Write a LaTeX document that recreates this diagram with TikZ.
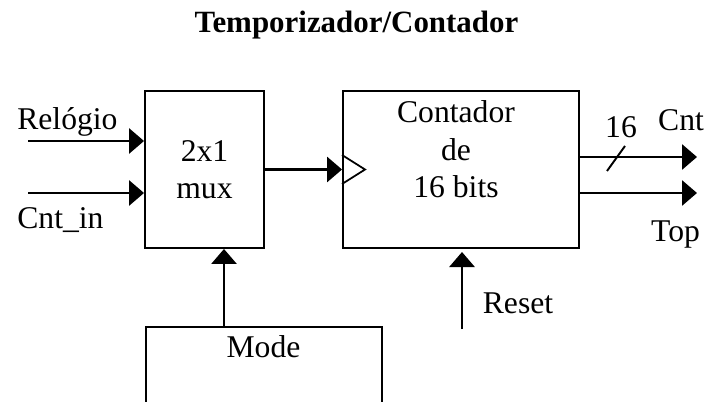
\documentclass[tikz,border=0pt]{standalone}
\usepackage{fontspec}
\setmainfont{Liberation Serif}
\usetikzlibrary{arrows.meta}

\begin{document}
\begin{tikzpicture}[
  block/.style={draw, line width=1.1pt, inner sep=0pt, minimum height=3.14cm},
  sig/.style={line width=1.7pt, -{Triangle[length=0.3cm, width=0.5cm]}},
  txt/.style={font=\fontsize{18}{21}\selectfont, inner sep=0pt, anchor=base},
]
  \clip (0,0) rectangle (14.14,8.02);
  \fill[white] (0,0) rectangle (14.14,8.02);

  \node[font=\fontsize{17.6}{20}\selectfont\bfseries, inner sep=0pt, anchor=base] (title) at (7.13, 7.36) {Temporizador/Contador};

  % blocks
  \node[block, minimum width=2.38cm] (mux) at (4.09, 4.63) {};
  \node[block, minimum width=4.72cm] (cnt) at (9.22, 4.63) {};
  \node[block, minimum width=4.72cm, minimum height=1.98cm] (mode) at (5.28, 0.49) {};

  \node[txt] (muxa) at (4.09, 4.78) {2x1};
  \node[txt] (muxb) at (4.09, 4.04) {mux};
  \node[txt] (cnta) at (9.12, 5.56) {Contador};
  \node[txt] (cntb) at (9.12, 4.80) {de};
  \node[txt] (cntc) at (9.12, 4.06) {16 bits};
  \node[txt] (modelbl) at (5.27, 0.88) {Mode};

  % inputs of the mux
  \coordinate (clkin) at (0.56, 5.20);
  \coordinate (cntin) at (0.56, 4.16);
  \draw[sig] (clkin) -- (clkin -| mux.west);
  \draw[sig] (cntin) -- (cntin -| mux.west);
  \node[txt, anchor=base west] (clklbl) at (0.34, 5.42) {Relógio};
  \node[txt, anchor=base west] (cntinlbl) at (0.34, 3.44) {Cnt\_in};

  % mode select
  \coordinate (modex) at (4.48, 0);
  \draw[sig] (mode.north -| modex) -- (mux.south -| modex);

  % mux to counter clock
  \draw[sig] (mux.east) -- (cnt.west);
  \draw[line width=1pt] ([yshift=0.29cm]cnt.west) -- ++(0.46, -0.29) -- ++(-0.46, -0.29);

  % outputs
  \coordinate (cntout) at (13.94, 4.88);
  \coordinate (topout) at (13.94, 4.16);
  \draw[sig] (cntout -| cnt.east) -- (cntout);
  \draw[sig] (topout -| cnt.east) -- (topout);
  \draw[line width=1.1pt] (12.14, 4.60) -- (12.50, 5.10);
  \node[txt] (buslbl) at (12.42, 5.26) {16};
  \node[txt] (cntlbl) at (13.62, 5.40) {Cnt};
  \node[txt] (toplbl) at (13.51, 3.18) {Top};

  % reset
  \coordinate (rst) at (9.24, 1.44);
  \coordinate (rsttip) at (9.24, 2.98);
  \draw[sig] (rst) -- (rsttip);
  \node[txt] (rstlbl) at (10.36, 1.74) {Reset};
\end{tikzpicture}
\end{document}
